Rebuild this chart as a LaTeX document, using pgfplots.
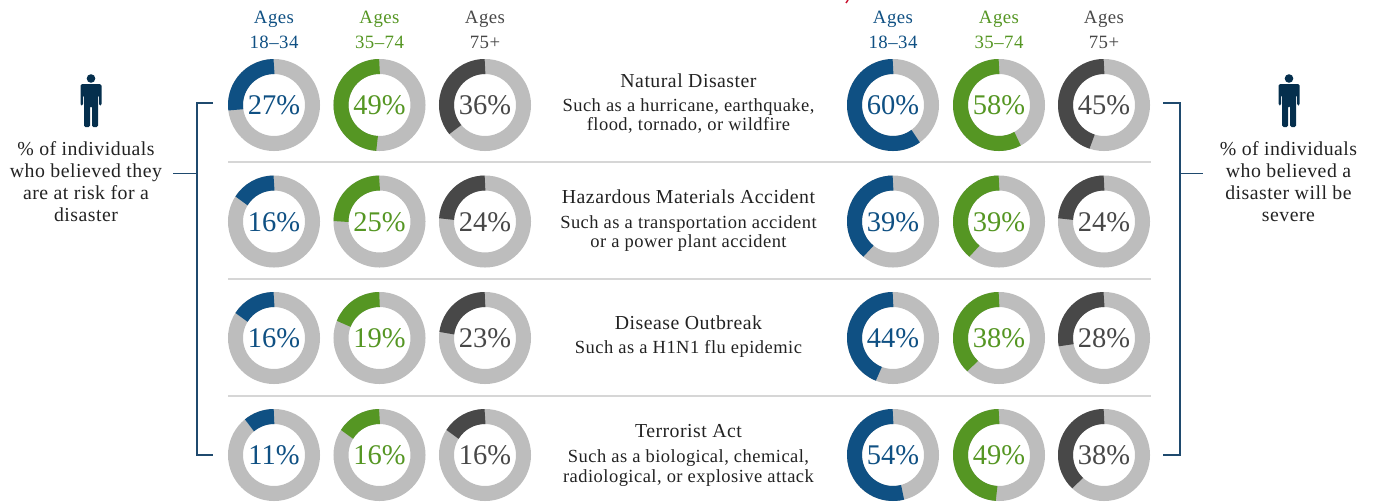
\documentclass[border=0pt]{standalone}
\usepackage{fontspec}
\setmainfont[LetterSpace=2.5]{Liberation Serif}
\newfontfamily\pctfont{Liberation Serif}
\usepackage{pgfplots}
\pgfplotsset{compat=1.18}

\definecolor{cblue}{HTML}{0F5083}
\definecolor{cgreen}{HTML}{559623}
\definecolor{cdark}{HTML}{484848}
\definecolor{cring}{HTML}{BDBDBD}
\definecolor{cnavy}{HTML}{052F4D}
\definecolor{cbrack}{HTML}{1F4A6E}
\definecolor{csep}{HTML}{D6D6D6}
\definecolor{ctext}{HTML}{222222}
\definecolor{cred}{HTML}{C8102E}

% one table per age group: x y (pixel positions) and percent
\pgfplotstableread{
x y pct
274 105 27
274 221.5 16
274 338 16
274 455 11
893 105 60
893 221.5 39
893 338 44
893 455 54
}\younger
\pgfplotstableread{
x y pct
379.5 105 49
379.5 221.5 25
379.5 338 19
379.5 455 16
999 105 58
999 221.5 39
999 338 38
999 455 49
}\middleaged
\pgfplotstableread{
x y pct
485 105 36
485 221.5 24
485 338 23
485 455 16
1104 105 45
1104 221.5 24
1104 338 28
1104 455 38
}\older

\pgfplotsset{
  donut/.style={
    scatter, only marks, mark=*, mark size=0pt,
    point meta=explicit symbolic,
    scatter/@pre marker code/.code={%
      \pgfscope
      \draw[draw=cring, line width=15pt] (0,0) circle[radius=38.5pt];
      \draw[draw=#1, line width=15pt] (0,38.5pt) arc[start angle=90, delta angle=3.6*\pgfplotspointmeta, radius=38.5pt];
      \node[anchor=base, inner sep=0pt, text=#1, draw=none, fill=none, font=\pctfont\fontsize{28.5}{31}\selectfont] at (0,-9.5pt) {\pgfplotspointmeta\%};
    },
    scatter/@post marker code/.code={\endpgfscope},
  }
}

\newcommand{\lbl}[3]{\node[anchor=base, inner sep=0pt, text=ctext, font=\fontsize{18.5}{22}\selectfont] at (axis cs:#1,#2) {#3};}
\newcommand{\ttl}[3]{\node[anchor=base, inner sep=0pt, text=ctext, font=\fontsize{19.8}{22}\selectfont] at (axis cs:#1,#2) {#3};}
\newcommand{\sidetxt}[3]{\node[anchor=base, inner sep=0pt, text=ctext, font=\fontsize{19.8}{22}\selectfont] at (axis cs:#1,#2) {#3};}
\newcommand{\hd}[4]{\node[anchor=base, inner sep=0pt, text=#1, font=\fontsize{18.8}{22}\selectfont] at (axis cs:#2,#3) {#4};}
\newcommand{\person}[1]{%
  \fill[cnavy] (axis cs:#1,78.5) circle[radius=4.3pt];
  \fill[cnavy, rounded corners=1.5pt] (axis cs:#1-10.5,105.5) -- (axis cs:#1-10.5,84) -- (axis cs:#1+10.5,84) -- (axis cs:#1+10.5,105.5) -- (axis cs:#1+8,105.5) -- (axis cs:#1+8,95) -- (axis cs:#1+7,95) -- (axis cs:#1+7,127) -- (axis cs:#1+1,127) -- (axis cs:#1+1,106) -- (axis cs:#1-1,106) -- (axis cs:#1-1,127) -- (axis cs:#1-7,127) -- (axis cs:#1-7,95) -- (axis cs:#1-8,95) -- (axis cs:#1-8,105.5) -- cycle;
}

\begin{document}
\begin{tikzpicture}
\clip (0,0) rectangle (1373pt,501pt);
\useasboundingbox (0,0) rectangle (1373pt,501pt);
\begin{axis}[
    scale only axis,
    width=1373pt, height=501pt,
    xmin=0, xmax=1373, ymin=0, ymax=501,
    y dir=reverse,
    hide axis,
    clip=false,
]
% separators
\draw[csep, line width=1.5pt] (axis cs:228,162) -- (axis cs:1151,162);
\draw[csep, line width=1.5pt] (axis cs:228,279) -- (axis cs:1151,279);
\draw[csep, line width=1.5pt] (axis cs:228,396) -- (axis cs:1151,396);

\addplot[donut=cblue] table[x=x,y=y,meta=pct] {\younger};
\addplot[donut=cgreen] table[x=x,y=y,meta=pct] {\middleaged};
\addplot[donut=cdark] table[x=x,y=y,meta=pct] {\older};

% brackets
\draw[cbrack, line width=1.1pt] (axis cs:213,103) -- (axis cs:197,103) -- (axis cs:197,455) -- (axis cs:213,455);
\draw[cbrack, line width=1.1pt] (axis cs:173,173.6) -- (axis cs:197,173.6);
\draw[cbrack, line width=1.1pt] (axis cs:1163,103) -- (axis cs:1180,103) -- (axis cs:1180,455) -- (axis cs:1163,455);
\draw[cbrack, line width=1.1pt] (axis cs:1180,173.6) -- (axis cs:1203,173.6);

\person{91}
\person{1289}

% column heads
\hd{cblue}{274}{23}{Ages}   \hd{cblue}{274}{48}{18--34}
\hd{cgreen}{379.5}{23}{Ages} \hd{cgreen}{379.5}{48}{35--74}
\hd{cdark}{485}{23}{Ages}   \hd{cdark}{485}{48}{75+}
\hd{cblue}{893}{23}{Ages}   \hd{cblue}{893}{48}{18--34}
\hd{cgreen}{999}{23}{Ages}  \hd{cgreen}{999}{48}{35--74}
\hd{cdark}{1104}{23}{Ages}  \hd{cdark}{1104}{48}{75+}

% side text
\sidetxt{86}{155.5}{\% of individuals}
\sidetxt{86}{177}{who believed they}
\sidetxt{86}{199}{are at risk for a}
\sidetxt{86}{221}{disaster}
\sidetxt{1288.5}{155.5}{\% of individuals}
\sidetxt{1288.5}{177}{who believed a}
\sidetxt{1288.5}{199}{disaster will be}
\sidetxt{1288.5}{221}{severe}

% row text
\ttl{688.5}{87}{Natural Disaster}
\lbl{688.5}{111}{Such as a hurricane, earthquake,}
\lbl{688.5}{130}{flood, tornado, or wildfire}
\ttl{688.5}{203}{Hazardous Materials Accident}
\lbl{688.5}{228}{Such as a transportation accident}
\lbl{688.5}{247}{or a power plant accident}
\ttl{688.5}{329}{Disease Outbreak}
\lbl{688.5}{353}{Such as a H1N1 flu epidemic}
\ttl{688.5}{437}{Terrorist Act}
\lbl{688.5}{462}{Such as a biological, chemical,}
\lbl{688.5}{482}{radiological, or explosive attack}

% clipped title fragment at the top edge
\draw[cred, line width=1.5pt] (axis cs:848,0) -- (axis cs:846,3);
\end{axis}
\end{tikzpicture}
\end{document}
